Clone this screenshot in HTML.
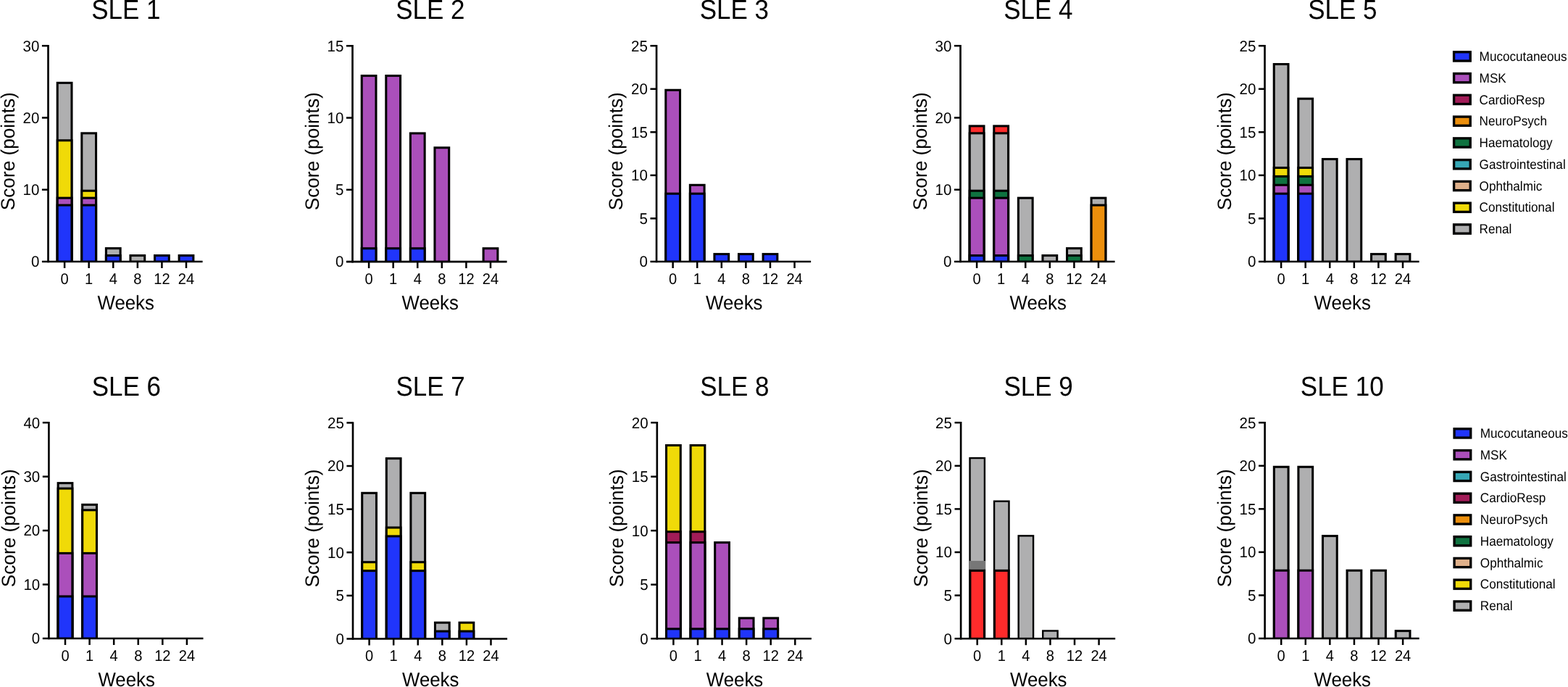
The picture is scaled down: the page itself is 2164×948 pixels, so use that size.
<!DOCTYPE html>
<html lang="en">
<head>
<meta charset="utf-8">
<title>SLE score by organ system</title>
<style>
html,body{margin:0;padding:0;background:#fff;}
body{width:2164px;height:948px;overflow:hidden;}
svg{display:block;}
text{font-family:"Liberation Sans",sans-serif;fill:#000;text-rendering:geometricPrecision;}
.title{font-size:35px;text-anchor:middle;}
.at{font-size:25.8px;text-anchor:middle;}
.yt{font-size:26.2px;text-anchor:middle;}
.yl{font-size:20.5px;text-anchor:end;}
.xl{font-size:20.1px;text-anchor:middle;}
.lg{font-size:17.15px;text-anchor:start;}
.ax{stroke:#000;stroke-width:2.65;fill:none;}
.tk{stroke:#000;stroke-width:2.5;fill:none;}
</style>
</head>
<body>
<svg width="2164" height="948" viewBox="0 0 2164 948">
<rect width="2164" height="948" fill="#fff"/>
<g class="chart">
<text class="title" transform="translate(173.8 26.1) scale(1 1.075)">SLE 1</text>
<rect x="77.7" y="112.83" width="22.8" height="248.17" fill="#000"/>
<rect x="80.75" y="115.88" width="16.7" height="243.79" fill="#afafb0"/>
<rect x="77.7" y="192.25" width="22.8" height="168.75" fill="#000"/>
<rect x="80.75" y="195.3" width="16.7" height="164.38" fill="#f0da08"/>
<rect x="77.7" y="271.66" width="22.8" height="89.34" fill="#000"/>
<rect x="80.75" y="274.71" width="16.7" height="84.97" fill="#ab4fbb"/>
<rect x="77.7" y="281.59" width="22.8" height="79.41" fill="#000"/>
<rect x="80.75" y="284.64" width="16.7" height="75.04" fill="#2035fb"/>
<rect x="111.28" y="182.32" width="22.8" height="178.68" fill="#000"/>
<rect x="114.33" y="185.37" width="16.7" height="174.31" fill="#afafb0"/>
<rect x="111.28" y="261.73" width="22.8" height="99.27" fill="#000"/>
<rect x="114.33" y="264.78" width="16.7" height="94.89" fill="#f0da08"/>
<rect x="111.28" y="271.66" width="22.8" height="89.34" fill="#000"/>
<rect x="114.33" y="274.71" width="16.7" height="84.97" fill="#ab4fbb"/>
<rect x="111.28" y="281.59" width="22.8" height="79.41" fill="#000"/>
<rect x="114.33" y="284.64" width="16.7" height="75.04" fill="#2035fb"/>
<rect x="144.86" y="341.15" width="22.8" height="19.85" fill="#000"/>
<rect x="147.91" y="344.2" width="16.7" height="15.48" fill="#afafb0"/>
<rect x="144.86" y="351.07" width="22.8" height="9.93" fill="#000"/>
<rect x="147.91" y="354.12" width="16.7" height="5.55" fill="#2035fb"/>
<rect x="178.44" y="351.07" width="22.8" height="9.93" fill="#000"/>
<rect x="181.49" y="354.12" width="16.7" height="5.55" fill="#afafb0"/>
<rect x="212.02" y="351.07" width="22.8" height="9.93" fill="#000"/>
<rect x="215.07" y="354.12" width="16.7" height="5.55" fill="#2035fb"/>
<rect x="245.6" y="351.07" width="22.8" height="9.93" fill="#000"/>
<rect x="248.65" y="354.12" width="16.7" height="5.55" fill="#2035fb"/>
<path class="ax" d="M66.5 61.95V362.32"/>
<path class="ax" d="M57.9 361H279.6"/>
<text class="yl" transform="translate(54.3 368.35) scale(1 1.04)">0</text>
<path class="tk" d="M57.9 261.73H66.5"/>
<text class="yl" transform="translate(54.3 269.08) scale(1 1.04)">10</text>
<path class="tk" d="M57.9 162.47H66.5"/>
<text class="yl" transform="translate(54.3 169.82) scale(1 1.04)">20</text>
<path class="tk" d="M57.9 63.2H66.5"/>
<text class="yl" transform="translate(54.3 70.55) scale(1 1.04)">30</text>
<path class="tk" d="M89.1 361V370"/>
<text class="xl" transform="translate(89.1 391.6) scale(1 1.06)">0</text>
<path class="tk" d="M122.68 361V370"/>
<text class="xl" transform="translate(122.68 391.6) scale(1 1.06)">1</text>
<path class="tk" d="M156.26 361V370"/>
<text class="xl" transform="translate(156.26 391.6) scale(1 1.06)">4</text>
<path class="tk" d="M189.84 361V370"/>
<text class="xl" transform="translate(189.84 391.6) scale(1 1.06)">8</text>
<path class="tk" d="M223.42 361V370"/>
<text class="xl" transform="translate(223.42 391.6) scale(1 1.06)">12</text>
<path class="tk" d="M257 361V370"/>
<text class="xl" transform="translate(257 391.6) scale(1 1.06)">24</text>
<text class="at" transform="translate(173.7 426.9) scale(1 1.06)">Weeks</text>
<text class="yt" transform="translate(19.9 208.7) rotate(-90) scale(1 1.02)">Score (points)</text>
</g>
<g class="chart">
<text class="title" transform="translate(593.8 26.1) scale(1 1.075)">SLE 2</text>
<rect x="497.7" y="103.01" width="22.8" height="258.09" fill="#000"/>
<rect x="500.75" y="106.06" width="16.7" height="253.72" fill="#ab4fbb"/>
<rect x="497.7" y="341.25" width="22.8" height="19.85" fill="#000"/>
<rect x="500.75" y="344.3" width="16.7" height="15.48" fill="#2035fb"/>
<rect x="531.28" y="103.01" width="22.8" height="258.09" fill="#000"/>
<rect x="534.33" y="106.06" width="16.7" height="253.72" fill="#ab4fbb"/>
<rect x="531.28" y="341.25" width="22.8" height="19.85" fill="#000"/>
<rect x="534.33" y="344.3" width="16.7" height="15.48" fill="#2035fb"/>
<rect x="564.86" y="182.42" width="22.8" height="178.68" fill="#000"/>
<rect x="567.91" y="185.47" width="16.7" height="174.31" fill="#ab4fbb"/>
<rect x="564.86" y="341.25" width="22.8" height="19.85" fill="#000"/>
<rect x="567.91" y="344.3" width="16.7" height="15.48" fill="#2035fb"/>
<rect x="598.44" y="202.27" width="22.8" height="158.83" fill="#000"/>
<rect x="601.49" y="205.32" width="16.7" height="154.45" fill="#ab4fbb"/>
<rect x="665.6" y="341.25" width="22.8" height="19.85" fill="#000"/>
<rect x="668.65" y="344.3" width="16.7" height="15.48" fill="#ab4fbb"/>
<path class="ax" d="M486.5 62.05V362.43"/>
<path class="ax" d="M477.9 361.1H699.6"/>
<text class="yl" transform="translate(474.3 368.45) scale(1 1.04)">0</text>
<path class="tk" d="M477.9 261.83H486.5"/>
<text class="yl" transform="translate(474.3 269.18) scale(1 1.04)">5</text>
<path class="tk" d="M477.9 162.57H486.5"/>
<text class="yl" transform="translate(474.3 169.92) scale(1 1.04)">10</text>
<path class="tk" d="M477.9 63.3H486.5"/>
<text class="yl" transform="translate(474.3 70.65) scale(1 1.04)">15</text>
<path class="tk" d="M509.1 361.1V370.1"/>
<text class="xl" transform="translate(509.1 391.7) scale(1 1.06)">0</text>
<path class="tk" d="M542.68 361.1V370.1"/>
<text class="xl" transform="translate(542.68 391.7) scale(1 1.06)">1</text>
<path class="tk" d="M576.26 361.1V370.1"/>
<text class="xl" transform="translate(576.26 391.7) scale(1 1.06)">4</text>
<path class="tk" d="M609.84 361.1V370.1"/>
<text class="xl" transform="translate(609.84 391.7) scale(1 1.06)">8</text>
<path class="tk" d="M643.42 361.1V370.1"/>
<text class="xl" transform="translate(643.42 391.7) scale(1 1.06)">12</text>
<path class="tk" d="M677 361.1V370.1"/>
<text class="xl" transform="translate(677 391.7) scale(1 1.06)">24</text>
<text class="at" transform="translate(593.7 427) scale(1 1.06)">Weeks</text>
<text class="yt" transform="translate(439.9 208.8) rotate(-90) scale(1 1.02)">Score (points)</text>
</g>
<g class="chart">
<text class="title" transform="translate(1013.35 26.1) scale(1 1.075)">SLE 3</text>
<rect x="917.25" y="122.76" width="22.8" height="238.24" fill="#000"/>
<rect x="920.3" y="125.81" width="16.7" height="233.87" fill="#ab4fbb"/>
<rect x="917.25" y="265.7" width="22.8" height="95.3" fill="#000"/>
<rect x="920.3" y="268.75" width="16.7" height="90.92" fill="#2035fb"/>
<rect x="950.83" y="253.79" width="22.8" height="107.21" fill="#000"/>
<rect x="953.88" y="256.84" width="16.7" height="102.83" fill="#ab4fbb"/>
<rect x="950.83" y="265.7" width="22.8" height="95.3" fill="#000"/>
<rect x="953.88" y="268.75" width="16.7" height="90.92" fill="#2035fb"/>
<rect x="984.41" y="349.09" width="22.8" height="11.91" fill="#000"/>
<rect x="987.46" y="352.14" width="16.7" height="7.54" fill="#2035fb"/>
<rect x="1017.99" y="349.09" width="22.8" height="11.91" fill="#000"/>
<rect x="1021.04" y="352.14" width="16.7" height="7.54" fill="#2035fb"/>
<rect x="1051.57" y="349.09" width="22.8" height="11.91" fill="#000"/>
<rect x="1054.62" y="352.14" width="16.7" height="7.54" fill="#2035fb"/>
<path class="ax" d="M906.05 61.95V362.32"/>
<path class="ax" d="M897.45 361H1119.15"/>
<text class="yl" transform="translate(893.85 368.35) scale(1 1.04)">0</text>
<path class="tk" d="M897.45 301.44H906.05"/>
<text class="yl" transform="translate(893.85 308.79) scale(1 1.04)">5</text>
<path class="tk" d="M897.45 241.88H906.05"/>
<text class="yl" transform="translate(893.85 249.23) scale(1 1.04)">10</text>
<path class="tk" d="M897.45 182.32H906.05"/>
<text class="yl" transform="translate(893.85 189.67) scale(1 1.04)">15</text>
<path class="tk" d="M897.45 122.76H906.05"/>
<text class="yl" transform="translate(893.85 130.11) scale(1 1.04)">20</text>
<path class="tk" d="M897.45 63.2H906.05"/>
<text class="yl" transform="translate(893.85 70.55) scale(1 1.04)">25</text>
<path class="tk" d="M928.65 361V370"/>
<text class="xl" transform="translate(928.65 391.6) scale(1 1.06)">0</text>
<path class="tk" d="M962.23 361V370"/>
<text class="xl" transform="translate(962.23 391.6) scale(1 1.06)">1</text>
<path class="tk" d="M995.81 361V370"/>
<text class="xl" transform="translate(995.81 391.6) scale(1 1.06)">4</text>
<path class="tk" d="M1029.39 361V370"/>
<text class="xl" transform="translate(1029.39 391.6) scale(1 1.06)">8</text>
<path class="tk" d="M1062.97 361V370"/>
<text class="xl" transform="translate(1062.97 391.6) scale(1 1.06)">12</text>
<path class="tk" d="M1096.55 361V370"/>
<text class="xl" transform="translate(1096.55 391.6) scale(1 1.06)">24</text>
<text class="at" transform="translate(1013.25 426.9) scale(1 1.06)">Weeks</text>
<text class="yt" transform="translate(859.45 208.7) rotate(-90) scale(1 1.02)">Score (points)</text>
</g>
<g class="chart">
<text class="title" transform="translate(1432.8 26.1) scale(1 1.075)">SLE 4</text>
<rect x="1336.7" y="172.39" width="22.8" height="188.61" fill="#000"/>
<rect x="1339.75" y="175.44" width="16.7" height="184.23" fill="#fe2b2b"/>
<rect x="1336.7" y="182.32" width="22.8" height="178.68" fill="#000"/>
<rect x="1339.75" y="185.37" width="16.7" height="174.31" fill="#afafb0"/>
<rect x="1336.7" y="261.73" width="22.8" height="99.27" fill="#000"/>
<rect x="1339.75" y="264.78" width="16.7" height="94.89" fill="#0f7340"/>
<rect x="1336.7" y="271.66" width="22.8" height="89.34" fill="#000"/>
<rect x="1339.75" y="274.71" width="16.7" height="84.97" fill="#ab4fbb"/>
<rect x="1336.7" y="351.07" width="22.8" height="9.93" fill="#000"/>
<rect x="1339.75" y="354.12" width="16.7" height="5.55" fill="#2035fb"/>
<rect x="1370.28" y="172.39" width="22.8" height="188.61" fill="#000"/>
<rect x="1373.33" y="175.44" width="16.7" height="184.23" fill="#fe2b2b"/>
<rect x="1370.28" y="182.32" width="22.8" height="178.68" fill="#000"/>
<rect x="1373.33" y="185.37" width="16.7" height="174.31" fill="#afafb0"/>
<rect x="1370.28" y="261.73" width="22.8" height="99.27" fill="#000"/>
<rect x="1373.33" y="264.78" width="16.7" height="94.89" fill="#0f7340"/>
<rect x="1370.28" y="271.66" width="22.8" height="89.34" fill="#000"/>
<rect x="1373.33" y="274.71" width="16.7" height="84.97" fill="#ab4fbb"/>
<rect x="1370.28" y="351.07" width="22.8" height="9.93" fill="#000"/>
<rect x="1373.33" y="354.12" width="16.7" height="5.55" fill="#2035fb"/>
<rect x="1403.86" y="271.66" width="22.8" height="89.34" fill="#000"/>
<rect x="1406.91" y="274.71" width="16.7" height="84.97" fill="#afafb0"/>
<rect x="1403.86" y="351.07" width="22.8" height="9.93" fill="#000"/>
<rect x="1406.91" y="354.12" width="16.7" height="5.55" fill="#0f7340"/>
<rect x="1437.44" y="351.07" width="22.8" height="9.93" fill="#000"/>
<rect x="1440.49" y="354.12" width="16.7" height="5.55" fill="#afafb0"/>
<rect x="1471.02" y="341.15" width="22.8" height="19.85" fill="#000"/>
<rect x="1474.07" y="344.2" width="16.7" height="15.48" fill="#afafb0"/>
<rect x="1471.02" y="351.07" width="22.8" height="9.93" fill="#000"/>
<rect x="1474.07" y="354.12" width="16.7" height="5.55" fill="#0f7340"/>
<rect x="1504.6" y="271.66" width="22.8" height="89.34" fill="#000"/>
<rect x="1507.65" y="274.71" width="16.7" height="84.97" fill="#afafb0"/>
<rect x="1504.6" y="281.59" width="22.8" height="79.41" fill="#000"/>
<rect x="1507.65" y="284.64" width="16.7" height="75.04" fill="#ec8f0c"/>
<path class="ax" d="M1325.5 61.95V362.32"/>
<path class="ax" d="M1316.9 361H1538.6"/>
<text class="yl" transform="translate(1313.3 368.35) scale(1 1.04)">0</text>
<path class="tk" d="M1316.9 261.73H1325.5"/>
<text class="yl" transform="translate(1313.3 269.08) scale(1 1.04)">10</text>
<path class="tk" d="M1316.9 162.47H1325.5"/>
<text class="yl" transform="translate(1313.3 169.82) scale(1 1.04)">20</text>
<path class="tk" d="M1316.9 63.2H1325.5"/>
<text class="yl" transform="translate(1313.3 70.55) scale(1 1.04)">30</text>
<path class="tk" d="M1348.1 361V370"/>
<text class="xl" transform="translate(1348.1 391.6) scale(1 1.06)">0</text>
<path class="tk" d="M1381.68 361V370"/>
<text class="xl" transform="translate(1381.68 391.6) scale(1 1.06)">1</text>
<path class="tk" d="M1415.26 361V370"/>
<text class="xl" transform="translate(1415.26 391.6) scale(1 1.06)">4</text>
<path class="tk" d="M1448.84 361V370"/>
<text class="xl" transform="translate(1448.84 391.6) scale(1 1.06)">8</text>
<path class="tk" d="M1482.42 361V370"/>
<text class="xl" transform="translate(1482.42 391.6) scale(1 1.06)">12</text>
<path class="tk" d="M1516 361V370"/>
<text class="xl" transform="translate(1516 391.6) scale(1 1.06)">24</text>
<text class="at" transform="translate(1432.7 426.9) scale(1 1.06)">Weeks</text>
<text class="yt" transform="translate(1278.9 208.7) rotate(-90) scale(1 1.02)">Score (points)</text>
</g>
<g class="chart">
<text class="title" transform="translate(1852.8 26.1) scale(1 1.075)">SLE 5</text>
<rect x="1756.7" y="87.02" width="22.8" height="273.98" fill="#000"/>
<rect x="1759.75" y="90.07" width="16.7" height="269.6" fill="#afafb0"/>
<rect x="1756.7" y="229.97" width="22.8" height="131.03" fill="#000"/>
<rect x="1759.75" y="233.02" width="16.7" height="126.66" fill="#f0da08"/>
<rect x="1756.7" y="241.88" width="22.8" height="119.12" fill="#000"/>
<rect x="1759.75" y="244.93" width="16.7" height="114.75" fill="#0f7340"/>
<rect x="1756.7" y="253.79" width="22.8" height="107.21" fill="#000"/>
<rect x="1759.75" y="256.84" width="16.7" height="102.83" fill="#ab4fbb"/>
<rect x="1756.7" y="265.7" width="22.8" height="95.3" fill="#000"/>
<rect x="1759.75" y="268.75" width="16.7" height="90.92" fill="#2035fb"/>
<rect x="1790.28" y="134.67" width="22.8" height="226.33" fill="#000"/>
<rect x="1793.33" y="137.72" width="16.7" height="221.95" fill="#afafb0"/>
<rect x="1790.28" y="229.97" width="22.8" height="131.03" fill="#000"/>
<rect x="1793.33" y="233.02" width="16.7" height="126.66" fill="#f0da08"/>
<rect x="1790.28" y="241.88" width="22.8" height="119.12" fill="#000"/>
<rect x="1793.33" y="244.93" width="16.7" height="114.75" fill="#0f7340"/>
<rect x="1790.28" y="253.79" width="22.8" height="107.21" fill="#000"/>
<rect x="1793.33" y="256.84" width="16.7" height="102.83" fill="#ab4fbb"/>
<rect x="1790.28" y="265.7" width="22.8" height="95.3" fill="#000"/>
<rect x="1793.33" y="268.75" width="16.7" height="90.92" fill="#2035fb"/>
<rect x="1823.86" y="218.06" width="22.8" height="142.94" fill="#000"/>
<rect x="1826.91" y="221.11" width="16.7" height="138.57" fill="#afafb0"/>
<rect x="1857.44" y="218.06" width="22.8" height="142.94" fill="#000"/>
<rect x="1860.49" y="221.11" width="16.7" height="138.57" fill="#afafb0"/>
<rect x="1891.02" y="349.09" width="22.8" height="11.91" fill="#000"/>
<rect x="1894.07" y="352.14" width="16.7" height="7.54" fill="#afafb0"/>
<rect x="1924.6" y="349.09" width="22.8" height="11.91" fill="#000"/>
<rect x="1927.65" y="352.14" width="16.7" height="7.54" fill="#afafb0"/>
<path class="ax" d="M1745.5 61.95V362.32"/>
<path class="ax" d="M1736.9 361H1958.6"/>
<text class="yl" transform="translate(1733.3 368.35) scale(1 1.04)">0</text>
<path class="tk" d="M1736.9 301.44H1745.5"/>
<text class="yl" transform="translate(1733.3 308.79) scale(1 1.04)">5</text>
<path class="tk" d="M1736.9 241.88H1745.5"/>
<text class="yl" transform="translate(1733.3 249.23) scale(1 1.04)">10</text>
<path class="tk" d="M1736.9 182.32H1745.5"/>
<text class="yl" transform="translate(1733.3 189.67) scale(1 1.04)">15</text>
<path class="tk" d="M1736.9 122.76H1745.5"/>
<text class="yl" transform="translate(1733.3 130.11) scale(1 1.04)">20</text>
<path class="tk" d="M1736.9 63.2H1745.5"/>
<text class="yl" transform="translate(1733.3 70.55) scale(1 1.04)">25</text>
<path class="tk" d="M1768.1 361V370"/>
<text class="xl" transform="translate(1768.1 391.6) scale(1 1.06)">0</text>
<path class="tk" d="M1801.68 361V370"/>
<text class="xl" transform="translate(1801.68 391.6) scale(1 1.06)">1</text>
<path class="tk" d="M1835.26 361V370"/>
<text class="xl" transform="translate(1835.26 391.6) scale(1 1.06)">4</text>
<path class="tk" d="M1868.84 361V370"/>
<text class="xl" transform="translate(1868.84 391.6) scale(1 1.06)">8</text>
<path class="tk" d="M1902.42 361V370"/>
<text class="xl" transform="translate(1902.42 391.6) scale(1 1.06)">12</text>
<path class="tk" d="M1936 361V370"/>
<text class="xl" transform="translate(1936 391.6) scale(1 1.06)">24</text>
<text class="at" transform="translate(1852.7 426.9) scale(1 1.06)">Weeks</text>
<text class="yt" transform="translate(1698.9 208.7) rotate(-90) scale(1 1.02)">Score (points)</text>
</g>
<g class="chart">
<text class="title" transform="translate(174.4 546.1) scale(1 1.075)">SLE 6</text>
<rect x="78.6" y="665.1" width="22.8" height="215.9" fill="#000"/>
<rect x="81.65" y="668.14" width="16.7" height="211.53" fill="#afafb0"/>
<rect x="78.6" y="672.54" width="22.8" height="208.46" fill="#000"/>
<rect x="81.65" y="675.59" width="16.7" height="204.08" fill="#f0da08"/>
<rect x="78.6" y="761.88" width="22.8" height="119.12" fill="#000"/>
<rect x="81.65" y="764.93" width="16.7" height="114.75" fill="#ab4fbb"/>
<rect x="78.6" y="821.44" width="22.8" height="59.56" fill="#000"/>
<rect x="81.65" y="824.49" width="16.7" height="55.18" fill="#2035fb"/>
<rect x="112.18" y="694.88" width="22.8" height="186.12" fill="#000"/>
<rect x="115.23" y="697.92" width="16.7" height="181.75" fill="#afafb0"/>
<rect x="112.18" y="702.32" width="22.8" height="178.68" fill="#000"/>
<rect x="115.23" y="705.37" width="16.7" height="174.3" fill="#f0da08"/>
<rect x="112.18" y="761.88" width="22.8" height="119.12" fill="#000"/>
<rect x="115.23" y="764.93" width="16.7" height="114.75" fill="#ab4fbb"/>
<rect x="112.18" y="821.44" width="22.8" height="59.56" fill="#000"/>
<rect x="115.23" y="824.49" width="16.7" height="55.18" fill="#2035fb"/>
<path class="ax" d="M67.4 581.95V882.33"/>
<path class="ax" d="M58.8 881H280.5"/>
<text class="yl" transform="translate(55.2 888.35) scale(1 1.04)">0</text>
<path class="tk" d="M58.8 806.55H67.4"/>
<text class="yl" transform="translate(55.2 813.9) scale(1 1.04)">10</text>
<path class="tk" d="M58.8 732.1H67.4"/>
<text class="yl" transform="translate(55.2 739.45) scale(1 1.04)">20</text>
<path class="tk" d="M58.8 657.65H67.4"/>
<text class="yl" transform="translate(55.2 665) scale(1 1.04)">30</text>
<path class="tk" d="M58.8 583.2H67.4"/>
<text class="yl" transform="translate(55.2 590.55) scale(1 1.04)">40</text>
<path class="tk" d="M90 881V890"/>
<text class="xl" transform="translate(90 911.6) scale(1 1.06)">0</text>
<path class="tk" d="M123.58 881V890"/>
<text class="xl" transform="translate(123.58 911.6) scale(1 1.06)">1</text>
<path class="tk" d="M157.16 881V890"/>
<text class="xl" transform="translate(157.16 911.6) scale(1 1.06)">4</text>
<path class="tk" d="M190.74 881V890"/>
<text class="xl" transform="translate(190.74 911.6) scale(1 1.06)">8</text>
<path class="tk" d="M224.32 881V890"/>
<text class="xl" transform="translate(224.32 911.6) scale(1 1.06)">12</text>
<path class="tk" d="M257.9 881V890"/>
<text class="xl" transform="translate(257.9 911.6) scale(1 1.06)">24</text>
<text class="at" transform="translate(174.6 946.9) scale(1 1.06)">Weeks</text>
<text class="yt" transform="translate(20.8 728.7) rotate(-90) scale(1 1.02)">Score (points)</text>
</g>
<g class="chart">
<text class="title" transform="translate(594.1 546.1) scale(1 1.075)">SLE 7</text>
<rect x="498.2" y="678.79" width="22.8" height="202.71" fill="#000"/>
<rect x="501.25" y="681.84" width="16.7" height="198.33" fill="#afafb0"/>
<rect x="498.2" y="774.18" width="22.8" height="107.32" fill="#000"/>
<rect x="501.25" y="777.23" width="16.7" height="102.94" fill="#f0da08"/>
<rect x="498.2" y="786.11" width="22.8" height="95.39" fill="#000"/>
<rect x="501.25" y="789.16" width="16.7" height="91.02" fill="#2035fb"/>
<rect x="531.78" y="631.1" width="22.8" height="250.4" fill="#000"/>
<rect x="534.83" y="634.15" width="16.7" height="246.03" fill="#afafb0"/>
<rect x="531.78" y="726.49" width="22.8" height="155.01" fill="#000"/>
<rect x="534.83" y="729.54" width="16.7" height="150.64" fill="#f0da08"/>
<rect x="531.78" y="738.41" width="22.8" height="143.09" fill="#000"/>
<rect x="534.83" y="741.46" width="16.7" height="138.71" fill="#2035fb"/>
<rect x="565.36" y="678.79" width="22.8" height="202.71" fill="#000"/>
<rect x="568.41" y="681.84" width="16.7" height="198.33" fill="#afafb0"/>
<rect x="565.36" y="774.18" width="22.8" height="107.32" fill="#000"/>
<rect x="568.41" y="777.23" width="16.7" height="102.94" fill="#f0da08"/>
<rect x="565.36" y="786.11" width="22.8" height="95.39" fill="#000"/>
<rect x="568.41" y="789.16" width="16.7" height="91.02" fill="#2035fb"/>
<rect x="598.94" y="857.65" width="22.8" height="23.85" fill="#000"/>
<rect x="601.99" y="860.7" width="16.7" height="19.47" fill="#afafb0"/>
<rect x="598.94" y="869.58" width="22.8" height="11.92" fill="#000"/>
<rect x="601.99" y="872.63" width="16.7" height="7.55" fill="#2035fb"/>
<rect x="632.52" y="857.65" width="22.8" height="23.85" fill="#000"/>
<rect x="635.57" y="860.7" width="16.7" height="19.47" fill="#f0da08"/>
<rect x="632.52" y="869.58" width="22.8" height="11.92" fill="#000"/>
<rect x="635.57" y="872.63" width="16.7" height="7.55" fill="#2035fb"/>
<path class="ax" d="M487 582.15V882.83"/>
<path class="ax" d="M478.4 881.5H700.1"/>
<text class="yl" transform="translate(474.8 888.85) scale(1 1.04)">0</text>
<path class="tk" d="M478.4 821.88H487"/>
<text class="yl" transform="translate(474.8 829.23) scale(1 1.04)">5</text>
<path class="tk" d="M478.4 762.26H487"/>
<text class="yl" transform="translate(474.8 769.61) scale(1 1.04)">10</text>
<path class="tk" d="M478.4 702.64H487"/>
<text class="yl" transform="translate(474.8 709.99) scale(1 1.04)">15</text>
<path class="tk" d="M478.4 643.02H487"/>
<text class="yl" transform="translate(474.8 650.37) scale(1 1.04)">20</text>
<path class="tk" d="M478.4 583.4H487"/>
<text class="yl" transform="translate(474.8 590.75) scale(1 1.04)">25</text>
<path class="tk" d="M509.6 881.5V890.5"/>
<text class="xl" transform="translate(509.6 912.1) scale(1 1.06)">0</text>
<path class="tk" d="M543.18 881.5V890.5"/>
<text class="xl" transform="translate(543.18 912.1) scale(1 1.06)">1</text>
<path class="tk" d="M576.76 881.5V890.5"/>
<text class="xl" transform="translate(576.76 912.1) scale(1 1.06)">4</text>
<path class="tk" d="M610.34 881.5V890.5"/>
<text class="xl" transform="translate(610.34 912.1) scale(1 1.06)">8</text>
<path class="tk" d="M643.92 881.5V890.5"/>
<text class="xl" transform="translate(643.92 912.1) scale(1 1.06)">12</text>
<path class="tk" d="M677.5 881.5V890.5"/>
<text class="xl" transform="translate(677.5 912.1) scale(1 1.06)">24</text>
<text class="at" transform="translate(594.2 947.4) scale(1 1.06)">Weeks</text>
<text class="yt" transform="translate(440.4 729.05) rotate(-90) scale(1 1.02)">Score (points)</text>
</g>
<g class="chart">
<text class="title" transform="translate(1013.8 546.1) scale(1 1.075)">SLE 8</text>
<rect x="918" y="613" width="22.8" height="268.2" fill="#000"/>
<rect x="921.05" y="616.05" width="16.7" height="263.83" fill="#f0da08"/>
<rect x="918" y="732.2" width="22.8" height="149" fill="#000"/>
<rect x="921.05" y="735.25" width="16.7" height="144.62" fill="#a21c58"/>
<rect x="918" y="747.1" width="22.8" height="134.1" fill="#000"/>
<rect x="921.05" y="750.15" width="16.7" height="129.73" fill="#ab4fbb"/>
<rect x="918" y="866.3" width="22.8" height="14.9" fill="#000"/>
<rect x="921.05" y="869.35" width="16.7" height="10.52" fill="#2035fb"/>
<rect x="951.58" y="613" width="22.8" height="268.2" fill="#000"/>
<rect x="954.63" y="616.05" width="16.7" height="263.83" fill="#f0da08"/>
<rect x="951.58" y="732.2" width="22.8" height="149" fill="#000"/>
<rect x="954.63" y="735.25" width="16.7" height="144.62" fill="#a21c58"/>
<rect x="951.58" y="747.1" width="22.8" height="134.1" fill="#000"/>
<rect x="954.63" y="750.15" width="16.7" height="129.73" fill="#ab4fbb"/>
<rect x="951.58" y="866.3" width="22.8" height="14.9" fill="#000"/>
<rect x="954.63" y="869.35" width="16.7" height="10.52" fill="#2035fb"/>
<rect x="985.16" y="747.1" width="22.8" height="134.1" fill="#000"/>
<rect x="988.21" y="750.15" width="16.7" height="129.73" fill="#ab4fbb"/>
<rect x="985.16" y="866.3" width="22.8" height="14.9" fill="#000"/>
<rect x="988.21" y="869.35" width="16.7" height="10.52" fill="#2035fb"/>
<rect x="1018.74" y="851.4" width="22.8" height="29.8" fill="#000"/>
<rect x="1021.79" y="854.45" width="16.7" height="25.42" fill="#ab4fbb"/>
<rect x="1018.74" y="866.3" width="22.8" height="14.9" fill="#000"/>
<rect x="1021.79" y="869.35" width="16.7" height="10.52" fill="#2035fb"/>
<rect x="1052.32" y="851.4" width="22.8" height="29.8" fill="#000"/>
<rect x="1055.37" y="854.45" width="16.7" height="25.42" fill="#ab4fbb"/>
<rect x="1052.32" y="866.3" width="22.8" height="14.9" fill="#000"/>
<rect x="1055.37" y="869.35" width="16.7" height="10.52" fill="#2035fb"/>
<path class="ax" d="M906.8 581.95V882.53"/>
<path class="ax" d="M898.2 881.2H1119.9"/>
<text class="yl" transform="translate(894.6 888.55) scale(1 1.04)">0</text>
<path class="tk" d="M898.2 806.7H906.8"/>
<text class="yl" transform="translate(894.6 814.05) scale(1 1.04)">5</text>
<path class="tk" d="M898.2 732.2H906.8"/>
<text class="yl" transform="translate(894.6 739.55) scale(1 1.04)">10</text>
<path class="tk" d="M898.2 657.7H906.8"/>
<text class="yl" transform="translate(894.6 665.05) scale(1 1.04)">15</text>
<path class="tk" d="M898.2 583.2H906.8"/>
<text class="yl" transform="translate(894.6 590.55) scale(1 1.04)">20</text>
<path class="tk" d="M929.4 881.2V890.2"/>
<text class="xl" transform="translate(929.4 911.8) scale(1 1.06)">0</text>
<path class="tk" d="M962.98 881.2V890.2"/>
<text class="xl" transform="translate(962.98 911.8) scale(1 1.06)">1</text>
<path class="tk" d="M996.56 881.2V890.2"/>
<text class="xl" transform="translate(996.56 911.8) scale(1 1.06)">4</text>
<path class="tk" d="M1030.14 881.2V890.2"/>
<text class="xl" transform="translate(1030.14 911.8) scale(1 1.06)">8</text>
<path class="tk" d="M1063.72 881.2V890.2"/>
<text class="xl" transform="translate(1063.72 911.8) scale(1 1.06)">12</text>
<path class="tk" d="M1097.3 881.2V890.2"/>
<text class="xl" transform="translate(1097.3 911.8) scale(1 1.06)">24</text>
<text class="at" transform="translate(1014 947.1) scale(1 1.06)">Weeks</text>
<text class="yt" transform="translate(860.2 728.8) rotate(-90) scale(1 1.02)">Score (points)</text>
</g>
<g class="chart">
<text class="title" transform="translate(1433.1 546.1) scale(1 1.075)">SLE 9</text>
<rect x="1337.3" y="630.88" width="22.8" height="250.32" fill="#000"/>
<rect x="1339.7" y="633.28" width="18" height="246.59" fill="#afafb0"/>
<rect x="1337.3" y="773.92" width="22.8" height="11.92" fill="#777777"/>
<rect x="1337.3" y="785.84" width="22.8" height="95.36" fill="#000"/>
<rect x="1340.4" y="788.94" width="16.6" height="90.93" fill="#fe2b2b"/>
<rect x="1370.88" y="690.48" width="22.8" height="190.72" fill="#000"/>
<rect x="1373.28" y="692.88" width="18" height="187" fill="#afafb0"/>
<rect x="1370.88" y="785.84" width="22.8" height="95.36" fill="#000"/>
<rect x="1373.98" y="788.94" width="16.6" height="90.93" fill="#fe2b2b"/>
<rect x="1404.46" y="738.16" width="22.8" height="143.04" fill="#000"/>
<rect x="1406.86" y="740.56" width="18" height="139.31" fill="#afafb0"/>
<rect x="1438.04" y="869.28" width="22.8" height="11.92" fill="#000"/>
<rect x="1440.44" y="871.68" width="18" height="8.19" fill="#afafb0"/>
<path class="ax" d="M1326.1 581.95V882.53"/>
<path class="ax" d="M1317.5 881.2H1539.2"/>
<text class="yl" transform="translate(1313.9 888.55) scale(1 1.04)">0</text>
<path class="tk" d="M1317.5 821.6H1326.1"/>
<text class="yl" transform="translate(1313.9 828.95) scale(1 1.04)">5</text>
<path class="tk" d="M1317.5 762H1326.1"/>
<text class="yl" transform="translate(1313.9 769.35) scale(1 1.04)">10</text>
<path class="tk" d="M1317.5 702.4H1326.1"/>
<text class="yl" transform="translate(1313.9 709.75) scale(1 1.04)">15</text>
<path class="tk" d="M1317.5 642.8H1326.1"/>
<text class="yl" transform="translate(1313.9 650.15) scale(1 1.04)">20</text>
<path class="tk" d="M1317.5 583.2H1326.1"/>
<text class="yl" transform="translate(1313.9 590.55) scale(1 1.04)">25</text>
<path class="tk" d="M1348.7 881.2V890.2"/>
<text class="xl" transform="translate(1348.7 911.8) scale(1 1.06)">0</text>
<path class="tk" d="M1382.28 881.2V890.2"/>
<text class="xl" transform="translate(1382.28 911.8) scale(1 1.06)">1</text>
<path class="tk" d="M1415.86 881.2V890.2"/>
<text class="xl" transform="translate(1415.86 911.8) scale(1 1.06)">4</text>
<path class="tk" d="M1449.44 881.2V890.2"/>
<text class="xl" transform="translate(1449.44 911.8) scale(1 1.06)">8</text>
<path class="tk" d="M1483.02 881.2V890.2"/>
<text class="xl" transform="translate(1483.02 911.8) scale(1 1.06)">12</text>
<path class="tk" d="M1516.6 881.2V890.2"/>
<text class="xl" transform="translate(1516.6 911.8) scale(1 1.06)">24</text>
<text class="at" transform="translate(1433.3 947.1) scale(1 1.06)">Weeks</text>
<text class="yt" transform="translate(1279.5 728.8) rotate(-90) scale(1 1.02)">Score (points)</text>
</g>
<g class="chart">
<text class="title" transform="translate(1852.2 546.1) scale(1 1.075)">SLE 10</text>
<rect x="1756.8" y="642.76" width="22.8" height="238.24" fill="#000"/>
<rect x="1759.85" y="645.81" width="16.7" height="233.87" fill="#afafb0"/>
<rect x="1756.8" y="785.7" width="22.8" height="95.3" fill="#000"/>
<rect x="1759.85" y="788.75" width="16.7" height="90.92" fill="#ab4fbb"/>
<rect x="1790.38" y="642.76" width="22.8" height="238.24" fill="#000"/>
<rect x="1793.43" y="645.81" width="16.7" height="233.87" fill="#afafb0"/>
<rect x="1790.38" y="785.7" width="22.8" height="95.3" fill="#000"/>
<rect x="1793.43" y="788.75" width="16.7" height="90.92" fill="#ab4fbb"/>
<rect x="1823.96" y="738.06" width="22.8" height="142.94" fill="#000"/>
<rect x="1827.01" y="741.11" width="16.7" height="138.57" fill="#afafb0"/>
<rect x="1857.54" y="785.7" width="22.8" height="95.3" fill="#000"/>
<rect x="1860.59" y="788.75" width="16.7" height="90.92" fill="#afafb0"/>
<rect x="1891.12" y="785.7" width="22.8" height="95.3" fill="#000"/>
<rect x="1894.17" y="788.75" width="16.7" height="90.92" fill="#afafb0"/>
<rect x="1924.7" y="869.09" width="22.8" height="11.91" fill="#000"/>
<rect x="1927.75" y="872.14" width="16.7" height="7.54" fill="#afafb0"/>
<path class="ax" d="M1745.6 581.95V882.33"/>
<path class="ax" d="M1737 881H1958.7"/>
<text class="yl" transform="translate(1733.4 888.35) scale(1 1.04)">0</text>
<path class="tk" d="M1737 821.44H1745.6"/>
<text class="yl" transform="translate(1733.4 828.79) scale(1 1.04)">5</text>
<path class="tk" d="M1737 761.88H1745.6"/>
<text class="yl" transform="translate(1733.4 769.23) scale(1 1.04)">10</text>
<path class="tk" d="M1737 702.32H1745.6"/>
<text class="yl" transform="translate(1733.4 709.67) scale(1 1.04)">15</text>
<path class="tk" d="M1737 642.76H1745.6"/>
<text class="yl" transform="translate(1733.4 650.11) scale(1 1.04)">20</text>
<path class="tk" d="M1737 583.2H1745.6"/>
<text class="yl" transform="translate(1733.4 590.55) scale(1 1.04)">25</text>
<path class="tk" d="M1768.2 881V890"/>
<text class="xl" transform="translate(1768.2 911.6) scale(1 1.06)">0</text>
<path class="tk" d="M1801.78 881V890"/>
<text class="xl" transform="translate(1801.78 911.6) scale(1 1.06)">1</text>
<path class="tk" d="M1835.36 881V890"/>
<text class="xl" transform="translate(1835.36 911.6) scale(1 1.06)">4</text>
<path class="tk" d="M1868.94 881V890"/>
<text class="xl" transform="translate(1868.94 911.6) scale(1 1.06)">8</text>
<path class="tk" d="M1902.52 881V890"/>
<text class="xl" transform="translate(1902.52 911.6) scale(1 1.06)">12</text>
<path class="tk" d="M1936.1 881V890"/>
<text class="xl" transform="translate(1936.1 911.6) scale(1 1.06)">24</text>
<text class="at" transform="translate(1852.8 946.9) scale(1 1.06)">Weeks</text>
<text class="yt" transform="translate(1699 728.7) rotate(-90) scale(1 1.02)">Score (points)</text>
</g>
<g class="legend">
<rect x="2004.9" y="70.1" width="26" height="15.6" fill="#000"/>
<rect x="2008.25" y="73.45" width="19.3" height="8.9" fill="#2035fb"/>
<text class="lg" transform="translate(2041.6 84) scale(1 1.065)">Mucocutaneous</text>
<rect x="2004.9" y="99.87" width="26" height="15.6" fill="#000"/>
<rect x="2008.25" y="103.22" width="19.3" height="8.9" fill="#ab4fbb"/>
<text class="lg" transform="translate(2041.6 113.77) scale(1 1.065)">MSK</text>
<rect x="2004.9" y="129.64" width="26" height="15.6" fill="#000"/>
<rect x="2008.25" y="132.99" width="19.3" height="8.9" fill="#a21c58"/>
<text class="lg" transform="translate(2041.6 143.54) scale(1 1.065)">CardioResp</text>
<rect x="2004.9" y="159.41" width="26" height="15.6" fill="#000"/>
<rect x="2008.25" y="162.76" width="19.3" height="8.9" fill="#ec8f0c"/>
<text class="lg" transform="translate(2041.6 173.31) scale(1 1.065)">NeuroPsych</text>
<rect x="2004.9" y="189.18" width="26" height="15.6" fill="#000"/>
<rect x="2008.25" y="192.53" width="19.3" height="8.9" fill="#0f7340"/>
<text class="lg" transform="translate(2041.6 203.08) scale(1 1.065)">Haematology</text>
<rect x="2004.9" y="218.95" width="26" height="15.6" fill="#000"/>
<rect x="2008.25" y="222.3" width="19.3" height="8.9" fill="#36a7b5"/>
<text class="lg" transform="translate(2041.6 232.85) scale(1 1.065)">Gastrointestinal</text>
<rect x="2004.9" y="248.72" width="26" height="15.6" fill="#000"/>
<rect x="2008.25" y="252.07" width="19.3" height="8.9" fill="#dfb08a"/>
<text class="lg" transform="translate(2041.6 262.62) scale(1 1.065)">Ophthalmic</text>
<rect x="2004.9" y="278.49" width="26" height="15.6" fill="#000"/>
<rect x="2008.25" y="281.84" width="19.3" height="8.9" fill="#f0da08"/>
<text class="lg" transform="translate(2041.6 292.39) scale(1 1.065)">Constitutional</text>
<rect x="2004.9" y="308.26" width="26" height="15.6" fill="#000"/>
<rect x="2008.25" y="311.61" width="19.3" height="8.9" fill="#afafb0"/>
<text class="lg" transform="translate(2041.6 322.16) scale(1 1.065)">Renal</text>
</g>
<g class="legend">
<rect x="2005.4" y="590.1" width="26" height="15.6" fill="#000"/>
<rect x="2008.75" y="593.45" width="19.3" height="8.9" fill="#2035fb"/>
<text class="lg" transform="translate(2042.8 604) scale(1 1.065)">Mucocutaneous</text>
<rect x="2005.4" y="619.87" width="26" height="15.6" fill="#000"/>
<rect x="2008.75" y="623.22" width="19.3" height="8.9" fill="#ab4fbb"/>
<text class="lg" transform="translate(2042.8 633.77) scale(1 1.065)">MSK</text>
<rect x="2005.4" y="649.64" width="26" height="15.6" fill="#000"/>
<rect x="2008.75" y="652.99" width="19.3" height="8.9" fill="#36a7b5"/>
<text class="lg" transform="translate(2042.8 663.54) scale(1 1.065)">Gastrointestinal</text>
<rect x="2005.4" y="679.41" width="26" height="15.6" fill="#000"/>
<rect x="2008.75" y="682.76" width="19.3" height="8.9" fill="#a21c58"/>
<text class="lg" transform="translate(2042.8 693.31) scale(1 1.065)">CardioResp</text>
<rect x="2005.4" y="709.18" width="26" height="15.6" fill="#000"/>
<rect x="2008.75" y="712.53" width="19.3" height="8.9" fill="#ec8f0c"/>
<text class="lg" transform="translate(2042.8 723.08) scale(1 1.065)">NeuroPsych</text>
<rect x="2005.4" y="738.95" width="26" height="15.6" fill="#000"/>
<rect x="2008.75" y="742.3" width="19.3" height="8.9" fill="#0f7340"/>
<text class="lg" transform="translate(2042.8 752.85) scale(1 1.065)">Haematology</text>
<rect x="2005.4" y="768.72" width="26" height="15.6" fill="#000"/>
<rect x="2008.75" y="772.07" width="19.3" height="8.9" fill="#dfb08a"/>
<text class="lg" transform="translate(2042.8 782.62) scale(1 1.065)">Ophthalmic</text>
<rect x="2005.4" y="798.49" width="26" height="15.6" fill="#000"/>
<rect x="2008.75" y="801.84" width="19.3" height="8.9" fill="#f0da08"/>
<text class="lg" transform="translate(2042.8 812.39) scale(1 1.065)">Constitutional</text>
<rect x="2005.4" y="828.26" width="26" height="15.6" fill="#000"/>
<rect x="2008.75" y="831.61" width="19.3" height="8.9" fill="#afafb0"/>
<text class="lg" transform="translate(2042.8 842.16) scale(1 1.065)">Renal</text>
</g>
</svg>
</body>
</html>
